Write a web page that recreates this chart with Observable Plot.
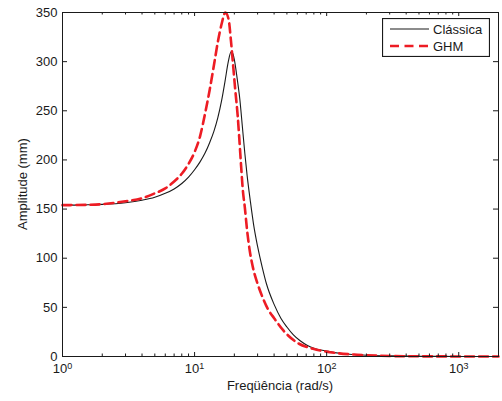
<!DOCTYPE html>
<html><head><meta charset="utf-8">
<script src="https://cdn.jsdelivr.net/npm/d3@7"></script>
<script src="https://cdn.jsdelivr.net/npm/@observablehq/plot@0.6"></script>
<style>
html,body{margin:0;padding:0;background:#fff;}
#wrap{position:relative;width:502px;height:401px;font-family:"Liberation Sans",Arial,sans-serif;}
#legend{position:absolute;left:382px;top:18px;}
</style></head><body><div id="wrap"></div>
<script>
// Data
const freqClassica = [1, 1.5, 2, 3, 4, 5, 6, 7, 8, 9, 10, 11, 12, 13, 14, 15, 16, 17, 18, 18.9, 19.5, 20, 21, 22, 23, 24, 25, 26.5, 28, 30, 32.5, 35, 40, 45, 50, 56, 63, 71, 80, 100, 130, 160, 200, 300, 500, 1000, 2000];
const ampClassica  = [154, 154.3, 154.8, 156.5, 159, 162, 166, 170.5, 176, 182.5, 190, 198, 207, 217.5, 229, 243, 260, 280, 300, 310, 308, 302, 283, 262, 234, 207, 184, 157, 134, 112, 91, 74, 53, 39, 30, 22, 16, 11.5, 8.5, 5.5, 3, 2, 1.3, 0.6, 0.2, 0.05, 0.01];
const freqGHM = [1, 1.5, 2, 3, 4, 5, 6, 7, 8, 9, 10, 11, 12, 13, 14, 15, 16, 17.1, 18.1, 18.8, 19.5, 20.3, 21.2, 21.9, 22.5, 23.2, 24, 25, 26, 27.5, 30, 33, 36, 40, 47, 59, 79, 106, 170, 300, 500, 1000, 2000];
const ampGHM  = [154, 154.3, 155, 158, 161, 166, 171, 178, 186, 196, 208, 224, 247, 271, 296, 320, 338, 350, 343, 323, 299, 272, 245, 218, 194, 169, 152, 128, 110, 92, 74, 59, 48, 39, 26.5, 14.6, 7.8, 4.4, 1.8, 0.5, 0.2, 0.05, 0.01];
const seriesNames = ["Clássica", "GHM"];
const xMajorTicks = [1, 10, 100, 1000];
const xMinorTicks = [2, 3, 4, 5, 6, 7, 8, 9, 20, 30, 40, 50, 60, 70, 80, 90, 200, 300, 400, 500, 600, 700, 800, 900];
const yTicks = [0, 50, 100, 150, 200, 250, 300, 350];
const xLabel = "Freqüência (rad/s)";
const yLabel = "Amplitude (mm)";

const W = 502, H = 401, mL = 62, mR = 4, mT = 12, mB = 45;
const iw = W - mL - mR, ih = H - mT - mB;
const ink = "#1a1a1a", red = "#ed1c24";

const classica = freqClassica.map((f, i) => ({f, a: ampClassica[i]}));
const ghm = freqGHM.map((f, i) => ({f, a: ampGHM[i]}));

const plot = Plot.plot({
  width: W, height: H,
  marginLeft: mL, marginRight: mR, marginTop: mT, marginBottom: mB,
  style: {fontFamily: "'Liberation Sans', Arial, sans-serif", fontSize: "13px", color: ink, background: "#fff"},
  x: {type: "log", domain: [1, 2000]},
  y: {domain: [0, 350]},
  marks: [
    Plot.line(classica, {x: "f", y: "a", stroke: ink, strokeWidth: 1.1, curve: "monotone-x"}),
    Plot.line(ghm, {x: "f", y: "a", stroke: red, strokeWidth: 2.6, strokeDasharray: "9,5", curve: "monotone-x"}),
    Plot.ruleX(xMajorTicks, {x: d => d, insetTop: ih - 4, stroke: ink}),
    Plot.ruleX(xMajorTicks, {x: d => d, insetBottom: ih - 4, stroke: ink}),
    Plot.ruleX(xMinorTicks, {x: d => d, insetTop: ih - 2.5, stroke: ink}),
    Plot.ruleX(xMinorTicks, {x: d => d, insetBottom: ih - 2.5, stroke: ink}),
    Plot.ruleY(yTicks, {y: d => d, insetRight: iw - 5, stroke: ink}),
    Plot.ruleY(yTicks, {y: d => d, insetLeft: iw - 5, stroke: ink}),
    Plot.frame({stroke: ink, strokeWidth: 1}),
    Plot.axisY(yTicks, {tickSize: 0, tickPadding: 5, label: null}),
    Plot.axisX(xMajorTicks, {tickSize: 0, tickPadding: 7, label: null, tickFormat: d => String(Math.round(Math.log10(d)))})
  ]
});

const svg = d3.select(plot);
// superscript exponents for the log tick labels
svg.selectAll("g[aria-label='x-axis tick label'] text").each(function () {
  const e = this.textContent;
  const t = d3.select(this);
  t.text(null);
  t.append("tspan").text("10");
  t.append("tspan").attr("dy", "-0.45em").attr("font-size", "9px").text(e);
});
svg.append("text").attr("x", mL + iw / 2).attr("y", 390).attr("text-anchor", "middle")
  .attr("fill", ink).attr("font-size", 13).text(xLabel);
svg.append("text").attr("transform", `translate(27,${mT + ih / 2}) rotate(-90)`).attr("text-anchor", "middle")
  .attr("fill", ink).attr("font-size", 13).text(yLabel);

const wrap = document.getElementById("wrap");
wrap.appendChild(plot);

// legend
const lg = d3.create("svg").attr("id", "legend").attr("width", 108).attr("height", 39)
  .style("font-family", "'Liberation Sans', Arial, sans-serif").style("font-size", "13px");
lg.append("rect").attr("x", 0.5).attr("y", 0.5).attr("width", 107).attr("height", 38)
  .attr("fill", "#fff").attr("stroke", ink).attr("stroke-width", 1.2);
const rows = [
  {name: seriesNames[0], stroke: ink, w: 1.1, dash: null, y: 11},
  {name: seriesNames[1], stroke: red, w: 2.6, dash: "9,5.5", y: 28}
];
rows.forEach(r => {
  lg.append("line").attr("x1", 8).attr("x2", 47).attr("y1", r.y).attr("y2", r.y)
    .attr("stroke", r.stroke).attr("stroke-width", r.w).attr("stroke-dasharray", r.dash);
  lg.append("text").attr("x", 51).attr("y", r.y).attr("dy", "0.35em").attr("fill", ink).text(r.name);
});
wrap.appendChild(lg.node());
</script></body></html>
